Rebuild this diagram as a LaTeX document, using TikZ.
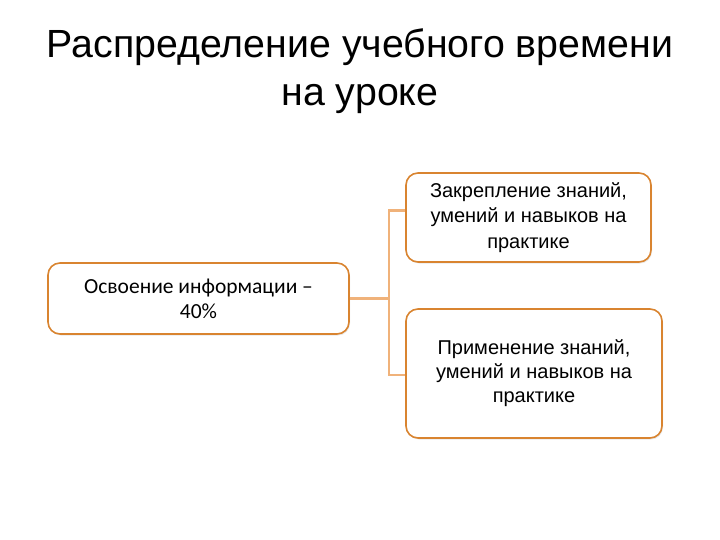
\documentclass[tikz,border=0pt]{standalone}
\usepackage{fontspec}
\setmainfont{Liberation Sans}
\newfontfamily\calib{Carlito}
\usetikzlibrary{shadows}
\definecolor{boxor}{HTML}{D98430}
\definecolor{connor}{HTML}{F0B27A}
\tikzset{
  box/.style={draw=boxor, line width=1.6pt, rounded corners=12pt, fill=white, align=center,
    drop shadow={opacity=0.18, shadow xshift=1pt, shadow yshift=-1.5pt}, inner sep=0pt},
  conn/.style={draw=connor, line width=2.6pt},
}
\begin{document}
\begin{tikzpicture}[x=1pt,y=-1pt]
\useasboundingbox (0,0) rectangle (720,540);
\node[font=\fontsize{39.3}{48}\selectfont, align=center] (title) at (360,71)
  {Распределение учебного времени\\на уроке};
\node[box, minimum width=301pt, minimum height=71pt, font=\calib\fontsize{21.5}{25}\selectfont] (L) at (198.5,298.5)
  {Освоение информации –\\40\%};
\node[box, minimum width=245pt, minimum height=89pt, font=\fontsize{20}{25.5}\selectfont] (T) at (528.5,217.5)
  {Закрепление знаний,\\умений и навыков на\\практике};
\node[box, minimum width=256pt, minimum height=129pt, font=\fontsize{20}{24}\selectfont] (B) at (534,373.5)
  {Применение знаний,\\умений и навыков на\\практике};
\coordinate (j) at (389,298.5);
\draw[conn] (L.east) -- (j);
\draw[conn] ([yshift=7pt]T.west) -| (j) |- ([yshift=-1.5pt]B.west);
\end{tikzpicture}
\end{document}
